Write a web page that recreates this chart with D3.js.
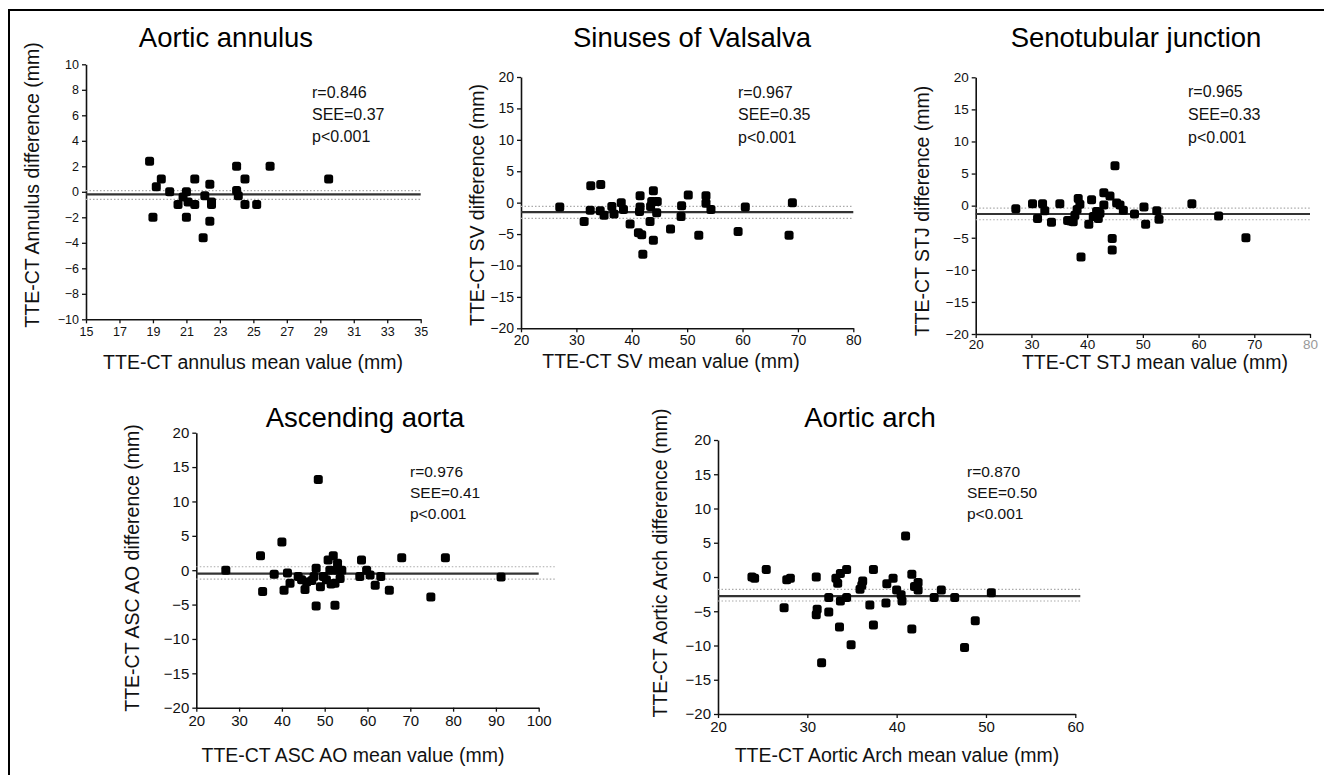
<!DOCTYPE html>
<html>
<head>
<meta charset="utf-8">
<script src="https://cdn.jsdelivr.net/npm/d3@7"></script>
<style>
    body { margin: 0; background: #fff; }
    svg { display: block; font-family: "Liberation Sans", Arial, sans-serif; }
</style>
</head>
<body>
<svg id="chart" width="1324" height="775"></svg>
<script>
// ----- DATA -------------------------------------------------------------
// [mean value, difference] pairs
const annulusPoints = [
    [18.8,2.4],[19.5,1.0],[19.2,0.4],[20.0,0.0],[19.0,-2.0],[21.5,1.0],[21.0,0.0],
    [20.8,-0.4],[20.5,-1.0],[21.1,-0.8],[21.5,-1.0],[21.0,-2.0],[22.1,-0.3],[22.4,0.6],
    [22.5,-0.8],[22.5,-1.0],[22.4,-2.3],[22.0,-3.6],[24.0,2.0],[24.5,1.0],[24.0,0.1],
    [24.1,-0.3],[24.5,-1.0],[25.2,-1.0],[26.0,2.0],[29.5,1.0]
];
const svPoints = [
    [27.0,-0.7],[31.4,-3.0],[32.6,2.7],[34.4,2.9],[32.5,-1.2],[34.3,-1.3],[35.0,-2.0],
    [36.4,-0.6],[36.8,-1.8],[38.1,0.0],[38.5,-1.1],[39.7,-3.4],[41.5,1.1],[41.4,-1.4],
    [41.2,-4.8],[41.8,-5.1],[42.0,-8.2],[43.3,-3.0],[43.9,1.9],[43.4,-0.6],[44.6,0.2],
    [44.5,-1.6],[43.9,-6.0],[43.6,0.2],[47.0,-4.2],[49.0,-0.5],[48.9,-2.2],[50.2,1.2],
    [52.1,-5.2],[53.4,1.1],[53.4,-0.1],[54.3,-1.1],[59.2,-4.6],[60.5,-0.7],[68.4,-5.2],
    [69.0,0.0],[41.5,-0.7]
];
const stjPoints = [
    [27.2,-0.5],[30.2,0.3],[32.0,0.3],[32.4,-0.8],[31.1,-2.0],[33.6,-2.6],[35.1,0.3],
    [36.5,-2.3],[37.5,-2.5],[37.8,-1.5],[38.2,-0.6],[38.4,1.1],[38.7,0.2],[38.9,-8.0],
    [40.3,-2.9],[40.8,0.9],[41.7,-0.9],[42.0,-2.0],[42.3,-1.2],[43.0,2.0],[43.0,0.1],
    [44.1,1.5],[45.0,6.2],[44.5,-5.1],[44.5,-6.9],[45.3,0.4],[45.9,0.1],[46.5,-0.7],
    [48.5,-1.3],[50.2,-0.2],[50.5,-2.9],[52.5,-0.8],[52.9,-2.1],[58.8,0.3],[63.6,-1.6],
    [68.5,-5.0],[41.1,-1.7],[37.0,-2.4]
];
const ascPoints = [
    [26.9,0.0],[35.0,2.1],[35.5,-3.1],[40.0,4.1],[38.2,-0.6],[41.3,-0.4],[40.5,-2.9],
    [41.9,-1.9],[43.8,-0.9],[44.6,-1.4],[45.4,-2.8],[45.8,-1.7],[47.5,-0.9],[48.0,-5.2],
    [48.5,13.2],[48.0,0.3],[49.0,-2.4],[50.8,1.5],[52.0,2.1],[51.2,0.0],[52.4,-1.9],
    [52.8,0.0],[54.0,0.0],[53.6,-1.2],[52.4,-5.1],[49.7,-0.9],[50.4,-1.4],[58.6,1.5],
    [58.2,-0.9],[59.8,0.0],[60.6,-0.7],[61.8,-2.2],[63.1,-0.9],[65.1,-2.9],[68.0,1.8],
    [74.8,-3.9],[78.2,1.8],[91.2,-1.0],[51.5,-2.0],[53.0,1.0],[47.0,-1.5]
];
const archPoints = [
    [23.8,0.0],[24.1,-0.2],[25.4,1.1],[27.4,-4.5],[27.7,-0.4],[28.1,-0.2],[31.0,0.0],
    [31.0,-5.5],[31.1,-4.7],[31.6,-12.5],[32.4,-3.0],[32.4,-5.1],[33.2,-0.2],[33.4,-0.9],
    [33.7,0.5],[34.4,1.1],[33.7,-3.5],[34.4,-3.0],[33.6,-7.3],[34.9,-9.9],[35.9,-1.8],
    [36.2,-0.6],[36.1,-1.2],[37.4,1.1],[37.0,-4.1],[37.4,-7.0],[38.8,-3.8],[38.9,-1.0],
    [39.6,-0.2],[40.0,-1.9],[40.5,-2.6],[40.6,-3.5],[41.0,6.0],[41.7,0.4],[41.7,-7.6],
    [42.0,-1.4],[42.4,-0.8],[42.4,-1.9],[44.2,-3.0],[45.0,-1.9],[46.5,-3.0],[47.6,-10.3],
    [48.8,-6.4],[50.6,-2.3]
];

// [mean bias, upper limit, lower limit]
const annulusBias = [-0.2, 0.1, -0.6];
const svBias      = [-1.5, -0.6, -2.5];
const stjBias     = [-1.3, -0.4, -2.2];
const ascBias     = [-0.5, 0.5, -1.3];
const archBias    = [-2.8, -1.8, -3.5];

// tick labels
const annulusXTicks = [15,17,19,21,23,25,27,29,31,33,35];
const annulusYTicks = [10,8,6,4,2,0,-2,-4,-6,-8,-10];
const svXTicks      = [20,30,40,50,60,70,80];
const stjXTicks     = [20,30,40,50,60,70,80];
const ascXTicks     = [20,30,40,50,60,70,80,90,100];
const archXTicks    = [20,30,40,50,60];
const diffYTicks    = [20,15,10,5,0,-5,-10,-15,-20];

const titles  = ["Aortic annulus", "Sinuses of Valsalva", "Senotubular junction", "Ascending aorta", "Aortic arch"];
const xLabels = ["TTE-CT annulus mean value (mm)", "TTE-CT SV mean value (mm)", "TTE-CT STJ mean value (mm)",
                 "TTE-CT ASC AO mean value (mm)", "TTE-CT Aortic Arch mean value (mm)"];
const yLabels = ["TTE-CT Annulus difference (mm)", "TTE-CT SV difference (mm)", "TTE-CT STJ difference (mm)",
                 "TTE-CT ASC AO difference (mm)", "TTE-CT Aortic Arch difference (mm)"];
const statsR   = ["r=0.846", "r=0.967", "r=0.965", "r=0.976", "r=0.870"];
const statsSEE = ["SEE=0.37", "SEE=0.35", "SEE=0.33", "SEE=0.41", "SEE=0.50"];
const statsP   = ["p<0.001", "p<0.001", "p<0.001", "p<0.001", "p<0.001"];


// ----- LAYOUT -------------------------------------------------------------
const panels = [
    { points: annulusPoints, bias: annulusBias, xTicks: annulusXTicks, yTicks: annulusYTicks,
      xr: [86, 420.7], yr: [319.3, 64.3], tickFont: 12.5, xPad: 4, lineExtra: 0,
      title: [226, 47], yLab: [32, 185], xLab: [253, 369], stats: [312, 98], statGap: 22 },
    { points: svPoints, bias: svBias, xTicks: svXTicks, yTicks: diffYTicks,
      xr: [521, 853.3], yr: [328.3, 77], tickFont: 14, xPad: 3, lineExtra: 0,
      title: [692, 47], yLab: [477, 205], xLab: [671, 368], stats: [738, 97.5], statGap: 22.7 },
    { points: stjPoints, bias: stjBias, xTicks: stjXTicks, yTicks: diffYTicks,
      xr: [975.7, 1310], yr: [334, 77.3], tickFont: 13.5, xPad: 1, lineExtra: 0, fadedTick: 80,
      title: [1136, 47], yLab: [922, 211], xLab: [1155, 369], stats: [1188, 96.5], statGap: 23 },
    { points: ascPoints, bias: ascBias, xTicks: ascXTicks, yTicks: diffYTicks,
      xr: [196.3, 538.7], yr: [707.7, 432.7], tickFont: 15, xPad: 4, lineExtra: 16,
      title: [365, 427], yLab: [132, 568], xLab: [353, 762], stats: [410, 476.5], statGap: 21.3 },
    { points: archPoints, bias: archBias, xTicks: archXTicks, yTicks: diffYTicks,
      xr: [718, 1075.3], yr: [714, 440], tickFont: 15, xPad: 3, lineExtra: 5,
      title: [870, 427], yLab: [660, 563], xLab: [897, 762], stats: [967, 476.5], statGap: 21.3 }
];

const MARKER = 9;

let svg = d3.select("#chart");

// figure frame (top and left edges only)
svg.append("path")
    .attr("d", "M9,775 V10 H1324")
    .attr("fill", "none")
    .attr("stroke", "#000")
    .attr("stroke-width", 2);

panels.forEach((p, i) =>
{
    const x = d3.scaleLinear()
        .domain([p.xTicks[0], p.xTicks[p.xTicks.length - 1]])
        .range(p.xr);
    const y = d3.scaleLinear()
        .domain([d3.min(p.yTicks), d3.max(p.yTicks)])
        .range(p.yr);

    let g = svg.append("g").attr("class", "panel panel--" + i);

    // axes
    let yAxis = g.append("g")
        .attr("transform", "translate(" + p.xr[0] + ",0)")
        .call(d3.axisLeft(y).tickValues(p.yTicks).tickSize(4).tickSizeOuter(0).tickPadding(3));
    let xAxis = g.append("g")
        .attr("transform", "translate(0," + p.yr[0] + ")")
        .call(d3.axisBottom(x).tickValues(p.xTicks).tickSize(4).tickSizeOuter(0).tickPadding(p.xPad));

    [yAxis, xAxis].forEach(ax => {
        ax.select(".domain").attr("stroke", "#111").attr("stroke-width", 1.6);
        ax.selectAll(".tick line").attr("stroke", "#111").attr("stroke-width", 1.3);
        ax.selectAll(".tick text")
            .attr("font-family", "'Liberation Sans', Arial, sans-serif")
            .attr("font-size", p.tickFont)
            .attr("fill", "#111");
    });

    if( p.fadedTick !== undefined )
    {
        xAxis.selectAll(".tick text")
            .filter(d => d === p.fadedTick)
            .attr("fill", "#999");
    }

    // bias lines: limits dotted, mean solid
    const xEnd = p.xr[1] + p.lineExtra;
    p.bias.slice(1).forEach(v => {
        g.append("line")
            .attr("x1", p.xr[0]).attr("x2", xEnd)
            .attr("y1", y(v)).attr("y2", y(v))
            .attr("stroke", "#aaa")
            .attr("stroke-width", 1.2)
            .attr("stroke-dasharray", "1.5,2");
    });
    g.append("line")
        .attr("x1", p.xr[0]).attr("x2", i === 3 ? p.xr[1] : xEnd)
        .attr("y1", y(p.bias[0])).attr("y2", y(p.bias[0]))
        .attr("stroke", "#333")
        .attr("stroke-width", 2.2);

    // data markers
    g.selectAll(".marker")
        .data(p.points)
        .enter()
            .append("rect")
            .attr("class", "marker")
            .attr("x", d => x(d[0]) - MARKER / 2)
            .attr("y", d => y(d[1]) - MARKER / 2)
            .attr("width", MARKER)
            .attr("height", MARKER)
            .attr("rx", 2.5)
            .attr("ry", 2.5)
            .attr("fill", "#000");

    // title
    g.append("text")
        .text(titles[i])
        .attr("x", p.title[0])
        .attr("y", p.title[1])
        .attr("text-anchor", "middle")
        .attr("font-size", 27.5)
        .attr("fill", "#000");

    // axis labels
    g.append("text")
        .text(xLabels[i])
        .attr("x", p.xLab[0])
        .attr("y", p.xLab[1])
        .attr("text-anchor", "middle")
        .attr("font-size", 19.5)
        .attr("fill", "#111");

    g.append("text")
        .text(yLabels[i])
        .attr("transform", "translate(" + p.yLab[0] + "," + p.yLab[1] + ") rotate(-90)")
        .attr("text-anchor", "middle")
        .attr("dominant-baseline", "central")
        .attr("font-size", 19.5)
        .attr("fill", "#111");

    // statistics block
    [statsR[i], statsSEE[i], statsP[i]].forEach((s, k) => {
        g.append("text")
            .text(s)
            .attr("x", p.stats[0])
            .attr("y", p.stats[1] + k * p.statGap)
            .attr("font-size", i > 2 ? 15.5 : 16)
            .attr("fill", "#111");
    });
});
</script>
</body>
</html>
